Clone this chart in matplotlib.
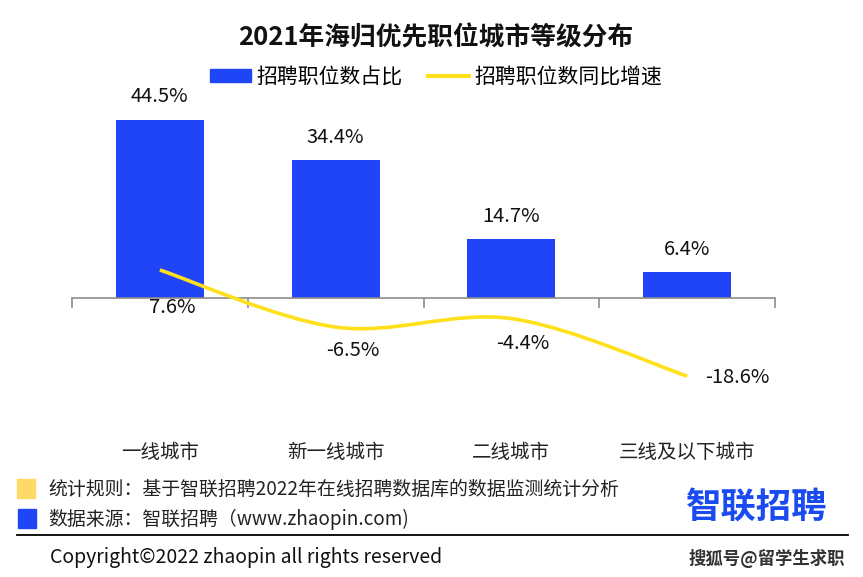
import numpy as np
import matplotlib
matplotlib.use("Agg")
import matplotlib.pyplot as plt
from matplotlib.path import Path
from matplotlib.patches import PathPatch, Rectangle
from matplotlib.lines import Line2D
from matplotlib.transforms import blended_transform_factory

plt.rcParams['font.family'] = ['Noto Sans CJK SC', 'DejaVu Sans']

# data
categories = ['一线城市', '新一线城市', '二线城市', '三线及以下城市']
share = [44.5, 34.4, 14.7, 6.4]          # 招聘职位数占比 (%)
growth = [7.6, -6.5, -4.4, -18.6]        # 招聘职位数同比增速 (%)
series_names = ['招聘职位数占比', '招聘职位数同比增速']
title = '2021年海归优先职位城市等级分布'
note_rule = '统计规则：基于智联招聘2022年在线招聘数据库的数据监测统计分析'
note_source = '数据来源：智联招聘（www.zhaopin.com)'
copyright_text = 'Copyright©2022 zhaopin all rights reserved'

BLUE = '#1F45F7'
YELLOW = '#FFE01A'
W, H = 863, 577


def px(x, y):
    # pixel position (from top-left) -> figure fraction
    return x / W, 1 - y / H


def smooth_path(xs, ys):
    # bezier curve through the points, like a spreadsheet "smoothed line"
    pts = np.column_stack([xs, ys]).astype(float)
    ext = np.vstack([pts[0], pts, pts[-1]])
    verts = [pts[0]]
    codes = [Path.MOVETO]
    for i in range(len(pts) - 1):
        p0, p1, p2, p3 = ext[i], ext[i + 1], ext[i + 2], ext[i + 3]
        verts += [p1 + (p2 - p0) / 6, p2 - (p3 - p1) / 6, p2]
        codes += [Path.CURVE4] * 3
    return Path(verts, codes)


fig = plt.figure(figsize=(W / 100, H / 100), dpi=100)

# plot area: x 72..775 px, y 100..400 px
left, top = px(72, 100)
right, bottom = px(775, 400)
ax = fig.add_axes([left, bottom, right - left, top - bottom])
ax2 = ax.twinx()

x = np.arange(len(categories))
ax.bar(x, share, width=0.5, color=BLUE, zorder=2)
ax.set_xlim(-0.5, len(categories) - 0.5)
ax.set_ylim(-(400 - 298) / 4.0, (298 - 100) / 4.0)
ax2.set_ylim(-(400 - 300.75) / 4.05, (300.75 - 100) / 4.05)

ax2.add_patch(PathPatch(smooth_path(x, growth), facecolor='none',
                        edgecolor=YELLOW, lw=2.6, capstyle='butt', zorder=3))

for a in (ax, ax2):
    for s in a.spines.values():
        s.set_visible(False)
    a.set_yticks([])
ax.spines['bottom'].set_visible(True)
ax.spines['bottom'].set_position(('data', 0))
ax.spines['bottom'].set_color('#8C8C8C')
ax.spines['bottom'].set_linewidth(1.2)
ax.set_xticks(np.arange(len(categories) + 1) - 0.5)
ax.tick_params(axis='x', length=7, width=1.2, color='#8C8C8C', direction='out',
               labelbottom=False)
ax2.tick_params(axis='both', length=0, labelright=False)

trans = blended_transform_factory(ax.transData, ax.transAxes)
for xi, name in zip(x, categories):
    ax.text(xi, -(452 - 400) / 300, name, transform=trans, ha='center',
            va='center', fontsize=14, color='#222222')

# value labels (offsets in pixels)
for xi, v in zip(x, share):
    ax.annotate(f'{v}%', (xi, v), xytext=(0, 23 * 0.72), textcoords='offset points',
                ha='center', va='center', fontsize=14.5, color='#111111')

growth_offsets = [(12, -38, 'center'), (17, -23, 'center'), (11, -25, 'center'), (18, -1, 'left')]
for xi, v, (dx, dy, ha) in zip(x, growth, growth_offsets):
    ax2.annotate(f'{v}%', (xi, v), xytext=(dx * 0.72, dy * 0.72), textcoords='offset points',
                 ha=ha, va='center', fontsize=14.5, color='#111111')

# title and legend
fig.text(*px(436, 38), title, ha='center', va='center', fontsize=18.5,
         fontweight='bold', color='#111111')
handles = [Rectangle((0, 0), 1, 1, color=BLUE), Line2D([], [], color=YELLOW, lw=3)]
fig.legend(handles, series_names, loc='center', bbox_to_anchor=px(436, 77), ncol=2,
           frameon=False, fontsize=15, handlelength=1.95, handleheight=0.55,
           handletextpad=0.25, columnspacing=1.25, borderpad=0, borderaxespad=0)

# footer
fig.add_artist(Rectangle(px(17, 498), 18 / W, 19 / H, color='#FFD966', transform=fig.transFigure))
fig.add_artist(Rectangle(px(18, 528), 18 / W, 19 / H, color=BLUE, transform=fig.transFigure))
fig.text(*px(48, 489), note_rule, ha='left', va='center', fontsize=13.6, color='#222222')
fig.text(*px(48, 519), note_source, ha='left', va='center', fontsize=13.6, color='#222222')
fig.add_artist(Line2D([17 / W, 848 / W], [1 - 535 / H] * 2, color='black', lw=1.3,
                      transform=fig.transFigure))
fig.text(*px(50, 558), copyright_text, ha='left', va='center', fontsize=14, color='#111111')
fig.text(*px(686, 507), '智联招聘', ha='left', va='center', fontsize=25.5,
         fontweight='bold', color='#1A4BF0')
fig.text(*px(845, 558), '搜狐号@留学生求职', ha='right', va='center', fontsize=12.5,
         fontweight='bold', color='#333333')

fig.savefig('out.png', dpi=100)
